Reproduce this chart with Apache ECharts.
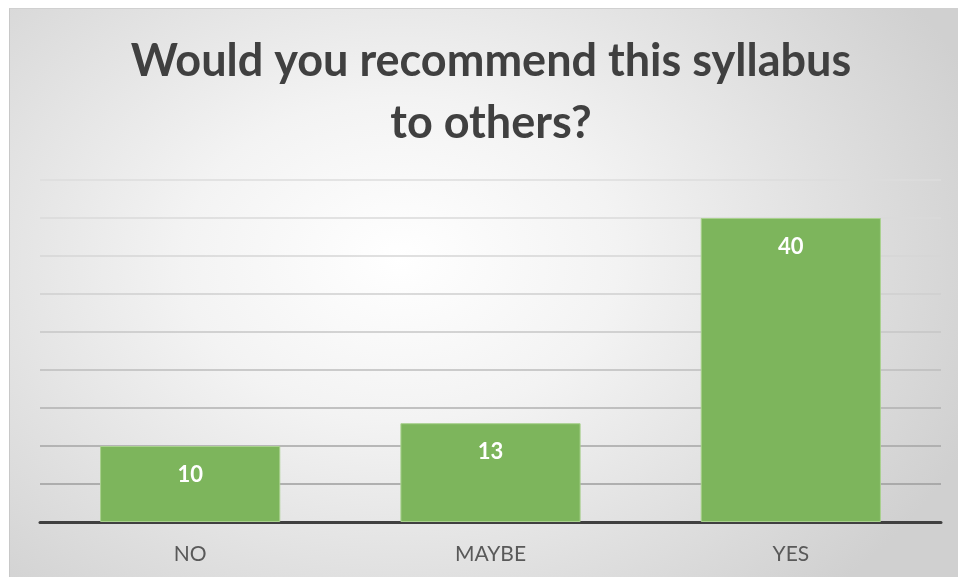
<!DOCTYPE html>
<html>
<head>
<meta charset="utf-8">
<script src="https://cdn.jsdelivr.net/npm/echarts@6/dist/echarts.min.js"></script>
<style>
html,body{margin:0;padding:0;background:#fff;width:958px;height:581px;overflow:hidden;}
#panel{position:absolute;left:9px;top:8px;width:948px;height:568px;border-left:1px solid #c8c8c8;border-top:1px solid #d0d0d0;
background:radial-gradient(ellipse 620px 460px at 390px 250px,#ffffff 0%,#f3f3f3 35%,#e0e0e0 70%,#d0d0d0 100%);}
#chart{position:absolute;left:0;top:0;width:948px;height:568px;}
</style>
</head>
<body>
<div id="panel"><div id="chart"></div></div>
<script>
var titleLines = ["Would you recommend this syllabus", "to others?"];
var categories = ["NO", "MAYBE", "YES"];
var values = [10, 13, 40];
var yMin = 0, yMax = 45, yInterval = 5;
var gridColors = ["#999999","#9c9c9c","#a4a4a4","#b0b0b0","#bcbcbc","#c6c6c6","#cfcfcf","#d6d6d6","#dadada","#dcdcdc"];

var chart = echarts.init(document.getElementById('chart'));
chart.setOption({
  backgroundColor: 'transparent',
  animation: false,
  title: {
    text: titleLines.join('\n'),
    left: 476,
    textAlign: 'center',
    top: 16,
    textStyle: {fontFamily: 'Lato', fontWeight: 'bold', fontSize: 45, color: '#404040', lineHeight: 62}
  },
  grid: {left: 30, right: 17, top: 171, bottom: 55, containLabel: false},
  xAxis: {
    type: 'category',
    data: categories,
    axisLine: {lineStyle: {color: '#404040', width: 3}},
    axisTick: {show: false},
    axisLabel: {fontFamily: 'Lato', fontSize: 21, color: '#595959', margin: 22}
  },
  yAxis: {
    type: 'value',
    min: yMin, max: yMax, interval: yInterval,
    axisLabel: {show: false},
    axisLine: {show: false},
    axisTick: {show: false},
    splitLine: {lineStyle: {color: gridColors, width: 1.5}}
  },
  series: [{
    type: 'bar',
    data: values,
    barWidth: '60%',
    itemStyle: {color: '#7db55c', borderColor: '#a9d18e', borderWidth: 1},
    label: {show: true, position: 'insideTop', distance: 18, fontFamily: 'Lato', fontWeight: 'bold', fontSize: 22, color: '#ffffff'}
  }]
});
</script>
</body>
</html>
